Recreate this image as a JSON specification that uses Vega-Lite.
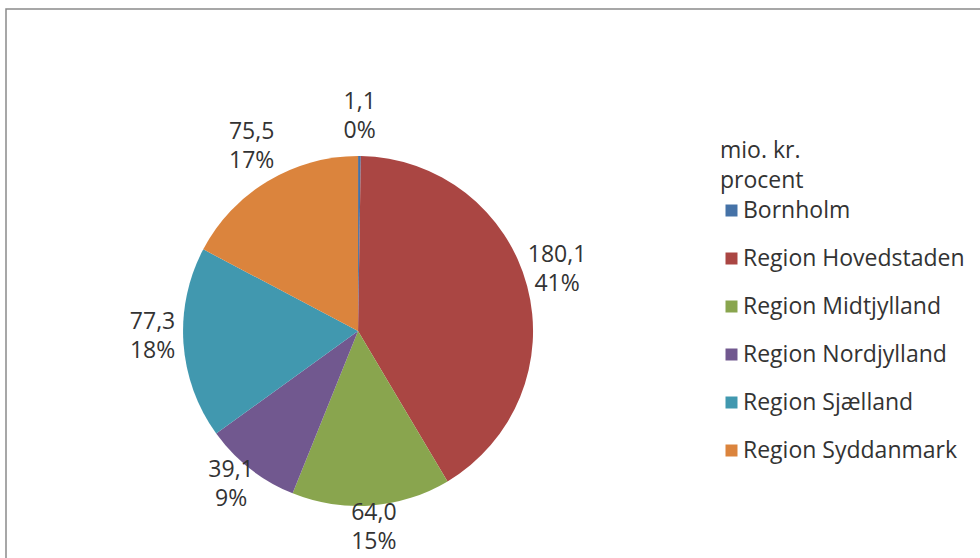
{
  "$schema": "https://vega.github.io/schema/vega-lite/v6.json",
  "width": 976,
  "height": 551,
  "autosize": "none",
  "padding": {"left": 6, "top": 9, "right": -2, "bottom": -2},
  "background": "white",
  "config": {
    "view": {"stroke": "#8a8a8a", "strokeWidth": 1.5},
    "font": "Open Sans"
  },
  "data": {
    "values": [
      {"region": "Bornholm", "value": 1.1, "label": "1,1\n0%"},
      {"region": "Region Hovedstaden", "value": 180.1, "label": "180,1\n41%"},
      {"region": "Region Midtjylland", "value": 64.0, "label": "64,0\n15%"},
      {"region": "Region Nordjylland", "value": 39.1, "label": "39,1\n9%"},
      {"region": "Region Sjælland", "value": 77.3, "label": "77,3\n18%"},
      {"region": "Region Syddanmark", "value": 75.5, "label": "75,5\n17%"}
    ]
  },
  "encoding": {
    "theta": {"field": "value", "type": "quantitative", "stack": true},
    "order": {"field": "region", "type": "nominal", "sort": "ascending"},
    "x": {"value": {"expr": "width*0.3607"}},
    "y": {"value": {"expr": "height*0.5844"}}
  },
  "layer": [
    {
      "mark": {"type": "arc", "radius": 175},
      "encoding": {
        "color": {
          "field": "region",
          "type": "nominal",
          "scale": {
            "domain": ["Bornholm", "Region Hovedstaden", "Region Midtjylland", "Region Nordjylland", "Region Sjælland", "Region Syddanmark"],
            "range": ["#4572A7", "#AA4643", "#89A54E", "#71588F", "#4198AF", "#DB843D"]
          },
          "legend": {
            "title": ["mio. kr.", "procent"],
            "orient": "none",
            "legendX": 714,
            "legendY": 131,
            "titleFontSize": 23,
            "titleFontWeight": "normal",
            "titleColor": "#333333",
            "titleLineHeight": 30,
            "titlePadding": 6,
            "labelFontSize": 23,
            "labelColor": "#333333",
            "labelOffset": 0,
            "labelLimit": 400,
            "symbolType": "square",
            "symbolSize": 144,
            "symbolStrokeWidth": 0,
            "rowPadding": 24,
            "padding": 0
          }
        }
      }
    },
    {
      "mark": {
        "type": "text",
        "radius": 206,
        "dy": -23,
        "fontSize": 23,
        "lineBreak": "\n",
        "lineHeight": 29,
        "align": "center",
        "baseline": "middle",
        "color": "#333333"
      },
      "encoding": {
        "text": {"field": "label", "type": "nominal"},
        "detail": {"field": "region", "type": "nominal"}
      }
    }
  ]
}
